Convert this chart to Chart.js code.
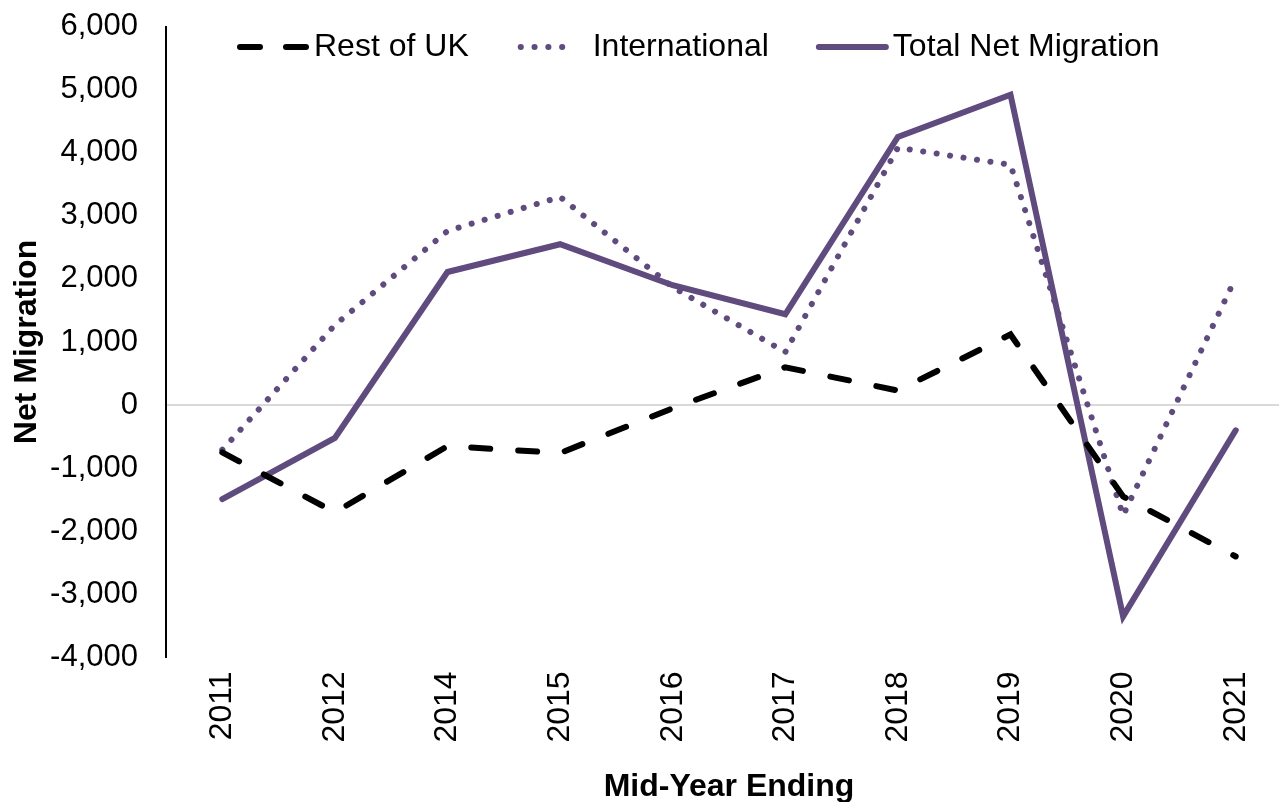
<!DOCTYPE html>
<html>
<head>
<meta charset="utf-8">
<script src="https://cdn.jsdelivr.net/npm/chart.js@4/dist/chart.umd.min.js"></script>
<style>
  html, body { margin: 0; padding: 0; background: #fff; overflow: hidden; }
  #wrap { width: 1292px; height: 822px; margin-top: -20px; }
</style>
</head>
<body>
<div id="wrap"><canvas id="grafico"></canvas></div>
<script>
const anos = ['2011', '2012', '2014', '2015', '2016', '2017', '2018', '2019', '2020', '2021'];
const restOfUK = [-750, -1700, -650, -760, -50, 600, 230, 1120, -1450, -2400];
const international = [-710, 1270, 2760, 3300, 1870, 840, 4080, 3810, -1750, 2020];
const totalNet = [-1490, -520, 2110, 2550, 1900, 1440, 4250, 4920, -3350, -400];
const yTicks = [-4000, -3000, -2000, -1000, 0, 1000, 2000, 3000, 4000, 5000, 6000];

const roxo = '#5f4b7e';
const fonte = "'Liberation Sans', Arial, sans-serif";

// legenda desenhada por cima da area do grafico, como no original
const legendaTopo = {
  id: 'legendaTopo',
  afterDraw(chart) {
    const c = chart.ctx;
    const y = 67; // canvas deslocado 20px para cima
    let x = 237;
    c.save();
    c.font = '32px ' + fonte;
    c.textBaseline = 'middle';
    c.fillStyle = '#000';
    chart.data.datasets.forEach(ds => {
      const [a, b] = ds.legendSpan || [3, 70];
      c.beginPath();
      c.strokeStyle = ds.borderColor;
      c.lineWidth = ds.borderWidth;
      c.lineCap = ds.borderCapStyle || 'butt';
      c.setLineDash(ds.legendDash || []);
      c.moveTo(x + a, y);
      c.lineTo(x + b, y);
      c.stroke();
      c.setLineDash([]);
      c.fillText(ds.label, x + 77, y);
      x += 77 + c.measureText(ds.label).width + 47;
    });
    c.restore();
  }
};

const ctx = document.getElementById('grafico').getContext('2d');
new Chart(ctx, {
  type: 'line',
  data: {
    labels: anos,
    datasets: [
      { label: 'Rest of UK', data: restOfUK, borderColor: '#000', backgroundColor: '#000',
        borderWidth: 6, borderDash: [19, 28], borderCapStyle: 'round', pointRadius: 0, tension: 0,
        legendDash: [20, 26], legendSpan: [3, 69] },
      { label: 'International', data: international, borderColor: roxo, backgroundColor: roxo,
        borderWidth: 6, borderDash: [0.1, 13.5], borderCapStyle: 'round', pointRadius: 0, tension: 0,
        legendDash: [0.1, 13.7], legendSpan: [5, 60] },
      { label: 'Total Net Migration', data: totalNet, borderColor: roxo, backgroundColor: roxo,
        borderWidth: 6, borderCapStyle: 'round', pointRadius: 0, tension: 0, legendSpan: [3, 70] }
    ]
  },
  plugins: [legendaTopo],
  options: {
    responsive: true,
    maintainAspectRatio: false,
    animation: false,
    layout: { padding: { top: 0, left: 4, right: 0, bottom: -4 } },
    plugins: {
      legend: { display: false },
      tooltip: { enabled: false }
    },
    scales: {
      x: {
        offset: true,
        grid: { display: false, drawTicks: false },
        border: { display: false },
        ticks: { color: '#000', font: { family: fonte, size: 32 }, minRotation: 90, maxRotation: 90, padding: 14 },
        title: { display: true, text: 'Mid-Year Ending', color: '#000', font: { family: fonte, size: 32, weight: 'bold' }, padding: { top: 11, bottom: 0 } }
      },
      y: {
        min: -4000, max: 6000,
        afterBuildTicks: axis => { axis.ticks = yTicks.map(v => ({ value: v })); },
        afterFit: axis => { axis.width = 162; },
        grid: {
          drawTicks: false,
          color: c => c.tick && c.tick.value === 0 ? '#d9d9d9' : 'rgba(0,0,0,0)',
          lineWidth: 2
        },
        border: { display: true, color: '#000', width: 2 },
        ticks: {
          color: '#000', padding: 28,
          font: { family: fonte, size: 31 },
          callback: v => v.toLocaleString('en-US')
        },
        title: { display: true, text: 'Net Migration', color: '#000', font: { family: fonte, size: 32, weight: 'bold' }, padding: { top: 4, bottom: 0 } }
      }
    }
  }
});
</script>
</body>
</html>
